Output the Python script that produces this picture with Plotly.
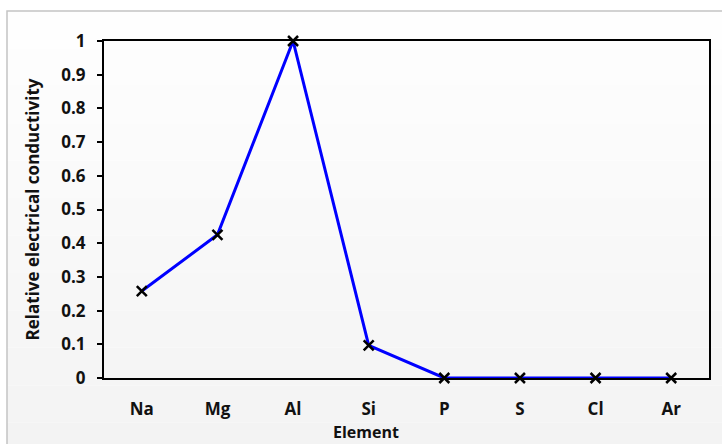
import plotly.graph_objects as go

elements = ["Na", "Mg", "Al", "Si", "P", "S", "Cl", "Ar"]
conductivity = [0.258, 0.425, 1.0, 0.097, 0.0, 0.0, 0.0, 0.0]
y_tickvals = [0, 0.1, 0.2, 0.3, 0.4, 0.5, 0.6, 0.7, 0.8, 0.9, 1.0]
y_ticktext = ["0", "0.1", "0.2", "0.3", "0.4", "0.5", "0.6", "0.7", "0.8", "0.9", "1"]
x_title = "Element"
y_title = "Relative electrical conductivity"

W, H = 722, 444
L, R, T, B = 104, 13, 41, 66
pw, ph = W - L - R, H - T - B

def px(x):
    return (x - L) / pw

def py(y):
    return (H - B - y) / ph

fam = "Open Sans, Liberation Sans, sans-serif"
tickfont = dict(family=fam, size=17, color="#111111", weight="bold")

fig = go.Figure()
fig.add_trace(go.Scatter(
    x=elements, y=conductivity, mode="lines+markers",
    line=dict(color="#0000ff", width=3),
    marker=dict(symbol="x-thin", size=10, color="black", line=dict(color="black", width=2.5)),
    showlegend=False, cliponaxis=False,
))

# light vertical gradient background inside the grey frame
shapes = []
nb = 12
top, bot = 11, 460
for i in range(nb):
    y0 = top + (bot - top) * i / nb
    y1 = top + (bot - top) * (i + 1) / nb
    g = int(round(254 - (254 - 243) * i / (nb - 1)))
    shapes.append(dict(type="rect", xref="paper", yref="paper", layer="below",
                       x0=px(7), x1=px(730), y0=py(y1), y1=py(y0),
                       fillcolor=f"rgb({g},{g},{g})", line=dict(width=0)))
shapes.append(dict(type="rect", xref="paper", yref="paper", layer="below",
                   x0=px(7), x1=px(730), y0=py(460), y1=py(11),
                   fillcolor="rgba(0,0,0,0)", line=dict(color="#c4c4c4", width=1.5)))

fig.update_layout(
    width=W, height=H,
    margin=dict(l=L, r=R, t=T, b=B),
    paper_bgcolor="white",
    plot_bgcolor="rgba(0,0,0,0)",
    font=dict(family=fam, size=17, color="#111111"),
    shapes=shapes,
    annotations=[dict(text=f"<b>{x_title}</b>", xref="paper", yref="paper",
                      x=px(366), y=py(432), xanchor="center", yanchor="middle",
                      showarrow=False, font=dict(family=fam, size=16, color="#111111"))],
    xaxis=dict(
        type="category", range=[-0.5, 7.5], automargin=False,
        showline=True, linecolor="black", linewidth=2, mirror=True,
        showgrid=False, zeroline=False, ticks="",
        ticklabelstandoff=15,
        tickfont=tickfont,
    ),
    yaxis=dict(
        range=[0, 1], tickvals=y_tickvals, ticktext=y_ticktext, automargin=False,
        showline=True, linecolor="black", linewidth=2, mirror=True,
        showgrid=False, zeroline=False, ticks="outside", ticklen=5, tickwidth=1.5,
        tickcolor="black", ticklabelstandoff=8,
        tickfont=tickfont,
        title=dict(text=f"<b>{y_title}</b>", standoff=17, font=dict(size=17)),
    ),
)

fig.write_html("out.html", config={"displayModeBar": False},
               post_script="document.body.style.margin='0';")
